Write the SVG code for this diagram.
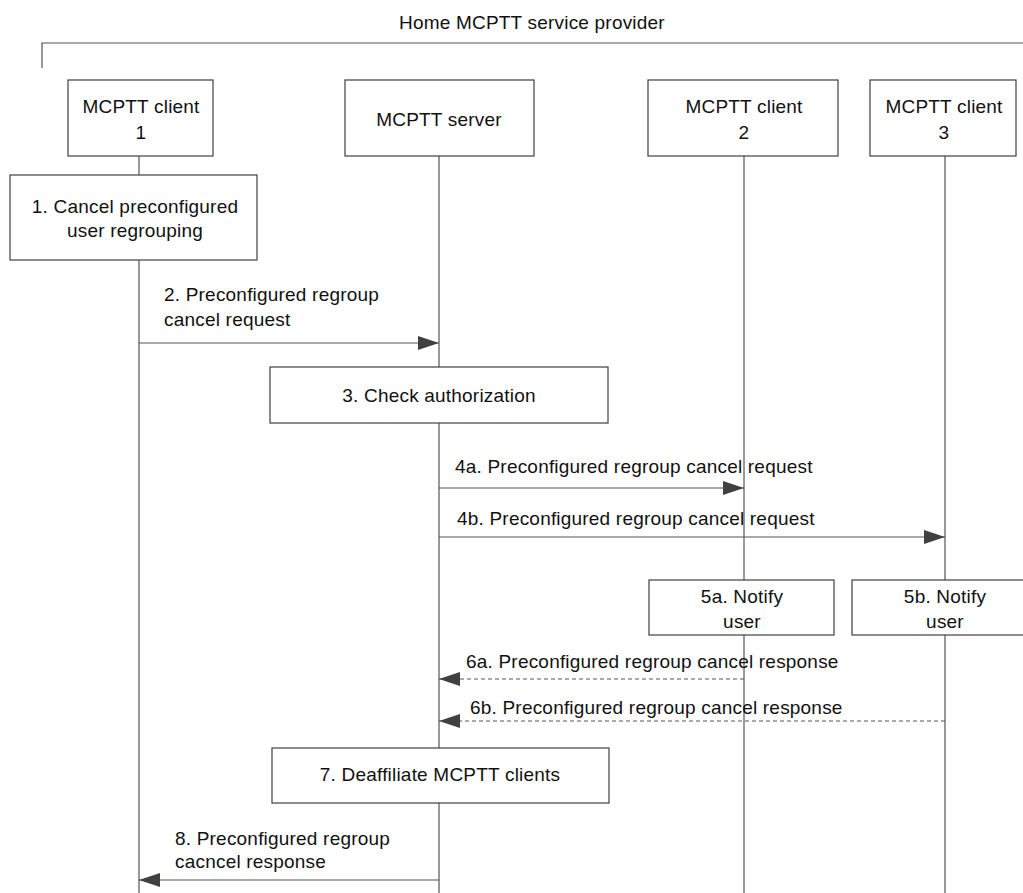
<svg xmlns="http://www.w3.org/2000/svg" width="1023" height="893" viewBox="0 0 1023 893">
<style>
text{font-family:"Liberation Sans",Arial,sans-serif;font-size:19px;fill:#111;letter-spacing:0.2px}
.m{text-anchor:middle}
.box{fill:#fff;stroke:#404040;stroke-width:1.2}
.life{stroke:#555;stroke-width:1.2;fill:none}
.msg{stroke:#555;stroke-width:1.2;fill:none}
.dash{stroke-dasharray:4 3}
</style>
<defs>
<marker id="ah" markerUnits="userSpaceOnUse" markerWidth="22" markerHeight="16" refX="21" refY="7" orient="auto">
<path d="M0,0 L21,7 L0,14 Z" fill="#404040"/>
</marker>
</defs>
<rect width="1023" height="893" fill="#fff"/>
<g id="frame">
<text x="399" y="29">Home MCPTT service provider</text>
<path d="M42,68 V43 H1023" fill="none" stroke="#555" stroke-width="1.2"/>
</g>
<g id="lifelines">
<line class="life" x1="139" y1="156" x2="139" y2="893"/>
<line class="life" x1="439" y1="156" x2="439" y2="893"/>
<line class="life" x1="744" y1="156" x2="744" y2="893"/>
<line class="life" x1="945" y1="156" x2="945" y2="893"/>
</g>
<g id="client1"><rect class="box" x="68" y="80" width="145" height="76"/><text class="m" x="141" y="113">MCPTT client</text><text class="m" x="141" y="139">1</text></g>
<g id="server"><rect class="box" x="345" y="80" width="189" height="76"/><text class="m" x="439" y="126">MCPTT server</text></g>
<g id="client2"><rect class="box" x="648" y="80" width="190" height="76"/><text class="m" x="744" y="113">MCPTT client</text><text class="m" x="744" y="139">2</text></g>
<g id="client3"><rect class="box" x="870" y="80" width="146" height="76"/><text class="m" x="944" y="113">MCPTT client</text><text class="m" x="944" y="139">3</text></g>
<g id="step1"><rect class="box" x="10" y="175" width="247" height="85"/><text class="m" x="135" y="213">1. Cancel preconfigured</text><text class="m" x="135" y="237">user regrouping</text></g>
<g id="step3"><rect class="box" x="270" y="367" width="338" height="56"/><text class="m" x="439" y="402">3. Check authorization</text></g>
<g id="step5a"><rect class="box" x="649" y="580" width="185" height="55"/><text class="m" x="742" y="603">5a. Notify</text><text class="m" x="742" y="628">user</text></g>
<g id="step5b"><rect class="box" x="852" y="580" width="180" height="55"/><text class="m" x="945" y="603">5b. Notify</text><text class="m" x="945" y="628">user</text></g>
<g id="step7"><rect class="box" x="272" y="748" width="337" height="55"/><text class="m" x="440" y="781">7. Deaffiliate MCPTT clients</text></g>
<g id="connectors">
<line class="msg" x1="139" y1="343" x2="439" y2="343" marker-end="url(#ah)"/>
<text x="164" y="301">2. Preconfigured regroup</text><text x="164" y="326">cancel request</text>
<line class="msg" x1="439" y1="488" x2="744" y2="488" marker-end="url(#ah)"/>
<text x="455" y="473">4a. Preconfigured regroup cancel request</text>
<line class="msg" x1="439" y1="537" x2="945" y2="537" marker-end="url(#ah)"/>
<text x="457" y="525">4b. Preconfigured regroup cancel request</text>
<line class="msg dash" x1="744" y1="679" x2="439" y2="679" marker-end="url(#ah)"/>
<text x="466" y="668">6a. Preconfigured regroup cancel response</text>
<line class="msg dash" x1="945" y1="721" x2="439" y2="721" marker-end="url(#ah)"/>
<text x="470" y="714">6b. Preconfigured regroup cancel response</text>
<line class="msg" x1="439" y1="880" x2="139" y2="880" marker-end="url(#ah)"/>
<text x="175" y="845">8. Preconfigured regroup</text><text x="175" y="868">cacncel response</text>
</g>
</svg>
